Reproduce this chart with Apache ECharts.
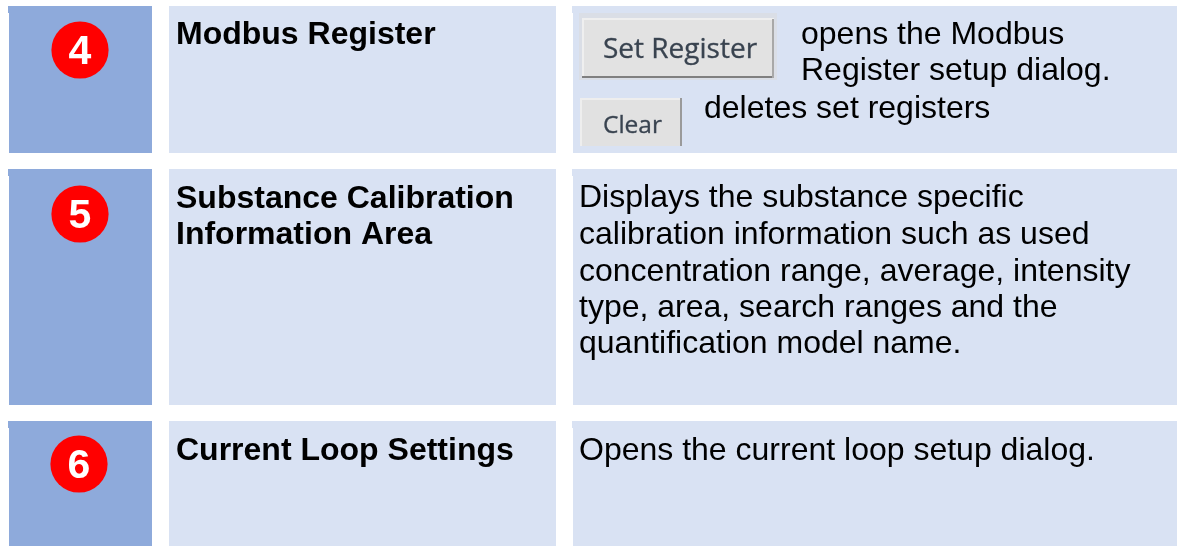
<!DOCTYPE html>
<html><head><meta charset="utf-8">
<style>html,body{margin:0;padding:0;background:#fff}#c{width:1177px;height:546px}</style>
<script src="https://cdn.jsdelivr.net/npm/echarts@6/dist/echarts.min.js"></script>
</head><body><div id="c"></div>
<script>
const rowNumbers = ['4', '5', '6'];
const rowTitles = [
  ['Modbus Register'],
  ['Substance Calibration', 'Information Area'],
  ['Current Loop Settings']
];
const rowTexts = [
  [],
  ['Displays the substance specific', 'calibration information such as used', 'concentration range, average, intensity', 'type, area, search ranges and the', 'quantification model name.'],
  ['Opens the current loop setup dialog.']
];
const modbusTexts = ['opens the Modbus', 'Register setup dialog.', 'deletes set registers'];
const buttonLabels = ['Set Register', 'Clear'];

const rowTop = [6, 169, 421], rowBottom = [153, 405, 546];
const circleCenter = [[80, 50], [80, 214], [79, 464]];
const FONT = '"Liberation Sans", Arial, sans-serif';
const chart = echarts.init(document.getElementById('c'), null, {renderer: 'canvas'});
const g = [];
const rect = (x, y, w, h, fill, z) => g.push({type: 'rect', z: z || 1, silent: true, shape: {x, y, width: w, height: h}, style: {fill}});
// y is the vertical centre of the text line
const text = (x, y, t, size, weight, color, family, extra) => g.push({type: 'text', x, y, z: 5, silent: true,
  style: Object.assign({text: t, font: `${weight} ${size}px ${family || FONT}`, fill: color || '#000', verticalAlign: 'middle', align: 'left'}, extra || {})});

const titleY = [[35], [199, 235], [451]];
const bodyY = [[], [198, 235, 272, 308, 344], [451]];
rowNumbers.forEach((n, i) => {
  const t = rowTop[i], b = rowBottom[i];
  rect(9, t, 143, b - t, '#8eaadb');
  rect(8, t, 1, 7, '#8eaadb');
  rect(169, t, 387, b - t, '#d9e2f3');
  rect(573, t, 604, b - t, '#d9e2f3');
  rect(572, t, 1, 7, '#d9e2f3');
  g.push({type: 'circle', shape: {cx: circleCenter[i][0], cy: circleCenter[i][1], r: 28.6}, style: {fill: '#ff0000'}, z: 3, silent: true});
  g.push({type: 'text', x: circleCenter[i][0], y: circleCenter[i][1] + 3, z: 5, silent: true,
    style: {text: n, font: `bold 41px ${FONT}`, fill: '#fff', align: 'center', verticalAlign: 'middle'}});
  rowTitles[i].forEach((s, k) => text(176, titleY[i][k], s, 32, 'bold'));
  rowTexts[i].forEach((s, k) => text(579, bodyY[i][k], s, 32, 'normal'));
});
// Modbus register cell: pictured buttons and captions
rect(579, 13, 198, 67, '#dadee6', 2);
rect(582, 18, 192, 60, '#e2e2e2', 3);
rect(582, 18, 192, 2, '#efefef', 3);
rect(582, 18, 2, 60, '#efefef', 3);
rect(582, 76, 192, 2, '#808080', 3);
rect(772, 19, 2, 59, '#a8a8a8', 3);
rect(580, 98, 102, 48, '#e1e1e1', 2);
rect(580, 98, 100, 2, '#eeeeee', 3);
rect(580, 98, 2, 48, '#eeeeee', 3);
rect(680, 98, 2, 48, '#9a9a9a', 3);
const blur = {stroke: '#5b6675', lineWidth: 0.4};
text(603, 50, buttonLabels[0], 28, 'normal', '#39434f', '"Open Sans", sans-serif', blur);
text(603, 126, buttonLabels[1], 24.5, 'normal', '#39434f', '"Open Sans", sans-serif', blur);
text(801, 35, modbusTexts[0], 32, 'normal');
text(801, 71, modbusTexts[1], 32, 'normal');
text(704, 109, modbusTexts[2], 32, 'normal');

chart.setOption({animation: false, backgroundColor: '#fff', graphic: {elements: g}});
</script></body></html>
